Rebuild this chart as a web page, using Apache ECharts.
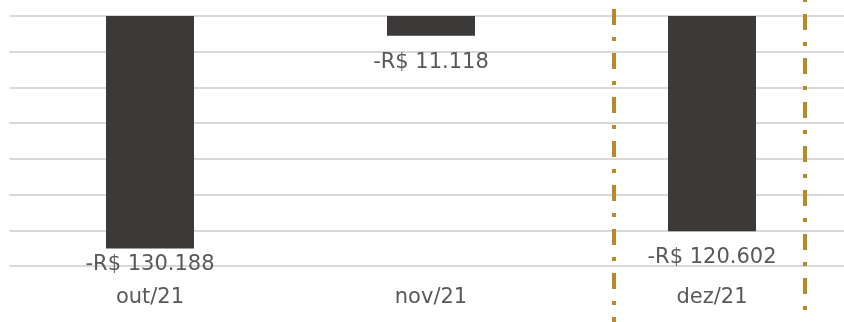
<!DOCTYPE html>
<html>
<head>
<meta charset="utf-8">
<script src="https://cdn.jsdelivr.net/npm/echarts@6/dist/echarts.min.js"></script>
<style>
  html, body { margin: 0; padding: 0; background: #fff; }
  #chart { width: 844px; height: 322px; }
</style>
</head>
<body>
<div id="chart"></div>
<script>
// dados do gráfico
const months = ['out/21', 'nov/21', 'dez/21']
const results = [-130188, -11118, -120602]
// distância do rótulo abaixo da barra (o Excel aproxima o de out/21 do eixo)
const labelGap = [6, 16, 16]
// faixa destacada em torno de dez/21 (em unidades de categoria)
const highlightBounds = [2.152, 2.828]
const dashPhase = [11, 16]

const fmt = v => '-R$ ' + Math.abs(v).toString().replace(/\B(?=(\d{3})+(?!\d))/g, '.')

const chart = echarts.init(document.getElementById('chart'))

const option = {
  animation: false,
  textStyle: { fontFamily: 'DejaVu Sans' },
  grid: [
    { left: 9.5, width: 843, top: 16, bottom: 56, outerBoundsMode: 'none' },
    { left: 9.5, width: 843, top: 0, bottom: 0, outerBoundsMode: 'none' }
  ],
  xAxis: [
    {
      type: 'category',
      gridIndex: 0,
      data: months,
      axisLine: { show: false },
      axisTick: { show: false },
      axisLabel: { color: '#595959', fontSize: 21, margin: 21 }
    },
    { type: 'value', gridIndex: 1, min: 0, max: 3, show: false }
  ],
  yAxis: [
    {
      type: 'value',
      gridIndex: 0,
      min: -140000,
      max: 0,
      interval: 20000,
      axisLabel: { show: false },
      axisLine: { show: false },
      axisTick: { show: false },
      splitLine: { lineStyle: { color: '#d9d9d9', width: 2 } }
    },
    { type: 'value', gridIndex: 1, min: 0, max: 1, show: false }
  ],
  series: [
    {
      type: 'bar',
      xAxisIndex: 0,
      yAxisIndex: 0,
      barWidth: 88,
      itemStyle: { color: '#3b3a38' },
      data: results.map((v, i) => ({
        value: v,
        label: { distance: labelGap[i] }
      })),
      label: {
        show: true,
        position: 'bottom',
        color: '#595959',
        fontSize: 21,
        formatter: p => fmt(p.value)
      }
    },
    {
      type: 'line',
      xAxisIndex: 1,
      yAxisIndex: 1,
      data: [],
      markLine: {
        silent: true,
        symbol: 'none',
        label: { show: false },
        lineStyle: { color: '#b8892a', width: 4, type: [16, 12, 4, 12] },
        data: highlightBounds.map((x, i) => ({
          xAxis: x,
          lineStyle: { dashOffset: dashPhase[i] }
        }))
      }
    }
  ]
}

chart.setOption(option)
</script>
</body>
</html>
